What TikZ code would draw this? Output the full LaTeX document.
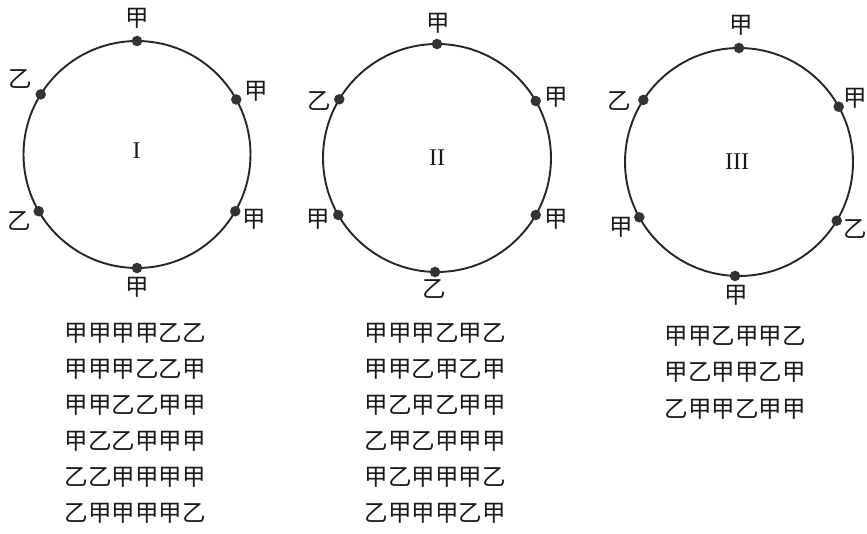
\documentclass[tikz,border=0pt]{standalone}
\usepackage{fontspec}
\newfontfamily\cjk{Noto Sans CJK SC}
\newfontfamily\romfont{Liberation Serif}
\begin{document}
\begin{tikzpicture}[x=1pt,y=-1pt,
  ring/.style={circle,draw=black!85,line width=1.9pt,minimum size=#1,inner sep=0pt,outer sep=0pt},
  dot/.style={circle,fill=black!80,minimum size=10.5pt,inner sep=0pt},
  lab/.style={font=\cjk\fontsize{23.5}{23.5}\selectfont,inner sep=0pt,text=black!90},
  num/.style={font=\romfont\fontsize{24}{24}\selectfont,inner sep=0pt,text=black!90},
  seq/.style={font=\cjk\fontsize{23.5}{23.5}\selectfont,inner sep=0pt,text=black!90}]
\useasboundingbox (0,0) rectangle (867,533);
% ---------- Circle I ----------
\node[ring=227pt] (c1) at (137,154.5) {};
\node[num] (n1) at (136.5,151) {I};
\node[dot] (d1a) at (c1.90) {};
\node[dot] (d1b) at (c1.29) {};
\node[dot] (d1c) at (c1.-30) {};
\node[dot] (d1d) at (c1.-90) {};
\node[dot] (d1e) at (c1.-150) {};
\node[dot] (d1f) at (c1.148) {};
\node[lab] (l1a) at (137,18) {甲};
\node[lab] (l1b) at (256,91) {甲};
\node[lab] (l1c) at (254,219) {甲};
\node[lab] (l1d) at (137,287) {甲};
\node[lab] (l1e) at (19,221) {乙};
\node[lab] (l1f) at (20,79) {乙};
% ---------- Circle II ----------
\node[ring=228pt] (c2) at (437,158) {};
\node[num] (n2) at (437,158) {II};
\node[dot] (d2a) at (c2.90) {};
\node[dot] (d2b) at (c2.30) {};
\node[dot] (d2c) at (c2.-30) {};
\node[dot] (d2d) at (c2.-91) {};
\node[dot] (d2e) at (c2.-150) {};
\node[dot] (d2f) at (c2.149) {};
\node[lab] (l2a) at (438,23) {甲};
\node[lab] (l2b) at (556,97) {甲};
\node[lab] (l2c) at (556,219) {甲};
\node[lab] (l2d) at (434,289) {乙};
\node[lab] (l2e) at (318,219) {甲};
\node[lab] (l2f) at (319,101) {乙};
% ---------- Circle III ----------
\node[ring=228pt] (c3) at (739,162) {};
\node[num] (n3) at (737,162) {III};
\node[dot] (d3a) at (c3.90) {};
\node[dot] (d3b) at (c3.29) {};
\node[dot] (d3c) at (c3.-31) {};
\node[dot] (d3d) at (c3.-92) {};
\node[dot] (d3e) at (c3.-151) {};
\node[dot] (d3f) at (c3.147) {};
\node[lab] (l3a) at (741,25) {甲};
\node[lab] (l3b) at (855.5,98) {甲};
\node[lab] (l3c) at (855.5,229) {乙};
\node[lab] (l3d) at (736,295) {甲};
\node[lab] (l3e) at (621,227) {甲};
\node[lab] (l3f) at (619,101) {乙};
% ---------- Lists ----------
\node[seq] (s11) at (135,333) {甲甲甲甲乙乙};
\node[seq] (s12) at (135,369) {甲甲甲乙乙甲};
\node[seq] (s13) at (135,405) {甲甲乙乙甲甲};
\node[seq] (s14) at (135,441) {甲乙乙甲甲甲};
\node[seq] (s15) at (135,477) {乙乙甲甲甲甲};
\node[seq] (s16) at (135,513) {乙甲甲甲甲乙};
\node[seq] (s21) at (435,333) {甲甲甲乙甲乙};
\node[seq] (s22) at (435,369) {甲甲乙甲乙甲};
\node[seq] (s23) at (435,405) {甲乙甲乙甲甲};
\node[seq] (s24) at (435,441) {乙甲乙甲甲甲};
\node[seq] (s25) at (435,477) {甲乙甲甲甲乙};
\node[seq] (s26) at (435,513) {乙甲甲甲乙甲};
\node[seq] (s31) at (735,336) {甲甲乙甲甲乙};
\node[seq] (s32) at (735,372) {甲乙甲甲乙甲};
\node[seq] (s33) at (735,409) {乙甲甲乙甲甲};
\end{tikzpicture}
\end{document}
